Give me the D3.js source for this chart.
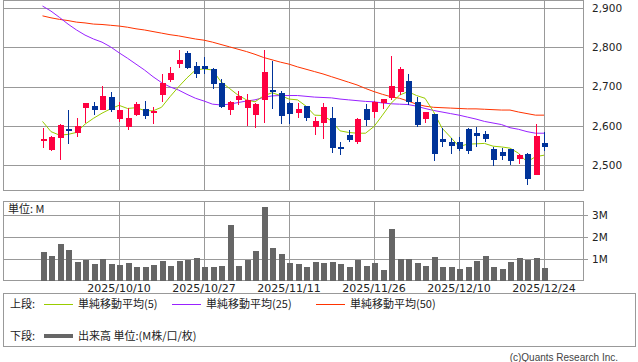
<!DOCTYPE html>
<html lang="ja">
<head>
<meta charset="UTF-8">
<title>株価チャート</title>
<script src="https://d3js.org/d3.v7.min.js"></script>
<style>
  body { margin: 0; background: #fff; }
  svg { display: block; font-family: "DejaVu Sans", sans-serif; }
  .grid line, .frame { stroke: #999; stroke-width: 1; fill: none; shape-rendering: crispEdges; }
  .tick-label { font-size: 10.5px; fill: #222; }
  .date-label { font-size: 11px; fill: #222; }
  .legend text { font-family: "Noto Sans CJK JP", sans-serif; font-size: 11px; fill: #222; }
</style>
</head>
<body>
<svg width="638" height="362"></svg>
<script>
// trading days
const dates = [
  "2025/09/29","2025/09/30","2025/10/01","2025/10/02","2025/10/03","2025/10/06","2025/10/07","2025/10/08","2025/10/09","2025/10/10",
  "2025/10/14","2025/10/15","2025/10/16","2025/10/17","2025/10/20","2025/10/21","2025/10/22","2025/10/23","2025/10/24","2025/10/27",
  "2025/10/28","2025/10/29","2025/10/30","2025/10/31","2025/11/04","2025/11/05","2025/11/06","2025/11/07","2025/11/10","2025/11/11",
  "2025/11/12","2025/11/13","2025/11/14","2025/11/17","2025/11/18","2025/11/19","2025/11/20","2025/11/21","2025/11/25","2025/11/26",
  "2025/11/27","2025/11/28","2025/12/01","2025/12/02","2025/12/03","2025/12/04","2025/12/05","2025/12/08","2025/12/09","2025/12/10",
  "2025/12/11","2025/12/12","2025/12/15","2025/12/16","2025/12/17","2025/12/18","2025/12/19","2025/12/22","2025/12/23","2025/12/24"
];
const openP  = [2562,2538,2570,2592,2582,2645,2650,2641,2673,2618, 2598,2628,2643,2634,2679,2717,2757,2785,2752,2752,
                2744,2708,2640,2666,2646,2628,2666,2691,2683,2658, 2633,2650,2597,2608,2621,2547,2576,2559,2643,2635,
                2658,2670,2686,2714,2660,2616,2629,2567,2559,2559, 2592,2582,2579,2541,2533,2540,2516,2528,2475,2557];
const highP  = [2595,2573,2604,2640,2620,2658,2660,2701,2686,2660, 2646,2661,2663,2649,2731,2750,2792,2790,2763,2775,
                2746,2719,2662,2689,2681,2657,2792,2766,2689,2660, 2658,2651,2623,2659,2648,2558,2589,2619,2655,2662,
                2669,2778,2750,2732,2674,2636,2630,2595,2570,2572, 2593,2596,2587,2545,2544,2542,2527,2530,2604,2583];
const lowP   = [2543,2536,2514,2554,2572,2606,2627,2640,2636,2610, 2589,2626,2618,2605,2660,2711,2748,2745,2722,2733,
                2694,2646,2628,2654,2599,2595,2608,2643,2605,2605, 2620,2613,2577,2567,2531,2526,2559,2554,2599,2620,
                2643,2666,2679,2652,2598,2608,2511,2547,2528,2536, 2528,2547,2558,2498,2514,2501,2503,2448,2475,2536];
const closeP = [2567,2571,2602,2587,2599,2658,2641,2676,2641,2640, 2621,2655,2625,2638,2710,2734,2768,2747,2733,2744,
                2706,2649,2660,2676,2666,2655,2737,2686,2626,2631, 2643,2621,2613,2649,2544,2542,2564,2617,2615,2660,
                2668,2701,2745,2661,2603,2635,2529,2559,2549,2542, 2536,2574,2566,2514,2524,2511,2525,2465,2574,2547];
// 単純移動平均
const ma5  = [2611,2585,2576,2578,2583,2604,2619,2632,2643,2652, 2644,2646,2639,2638,2647,2674,2699,2722,2742,2745,
              2742,2712,2695,2678,2666,2661,2676,2684,2677,2668, 2666,2650,2627,2626,2612,2587,2583,2581,2581,2598,
              2627,2657,2678,2687,2677,2670,2636,2594,2571,2547, 2553,2554,2555,2548,2546,2543,2530,2508,2521,2525];
const ma25 = [2905,2892,2876,2859,2844,2831,2821,2813,2801,2786, 2772,2757,2742,2725,2710,2699,2691,2680,2670,2663,
              2655,2653,2655,2659,2663,2666,2672,2676,2677,2677, 2677,2675,2673,2672,2671,2668,2666,2664,2662,2661,
              2658,2656,2655,2654,2650,2644,2639,2635,2631,2627, 2622,2617,2611,2607,2603,2595,2591,2585,2581,2581];
const ma50 = [2880,2875,2871,2868,2864,2862,2859,2858,2856,2854, 2851,2847,2844,2840,2836,2832,2829,2825,2821,2818,
              2813,2807,2801,2795,2789,2782,2774,2768,2762,2757, 2750,2744,2738,2732,2725,2718,2711,2704,2695,2687,
              2680,2674,2670,2663,2655,2650,2647,2646,2645,2644, 2643,2643,2642,2641,2640,2640,2635,2631,2627,2627];
// 出来高 (M)
const volume = [1.32,1.13,1.68,1.41,0.86,0.95,0.77,1.00,0.77,0.72, 0.81,0.63,0.63,0.72,0.90,0.68,0.90,0.95,1.04,0.63,
                0.63,0.68,2.56,0.68,0.95,1.36,3.38,1.50,1.22,0.81, 0.77,0.63,0.86,0.81,0.86,0.77,0.63,0.95,0.68,0.81,
                0.49,2.37,1.00,1.00,0.81,0.68,1.09,0.63,0.63,0.54, 0.63,0.90,1.13,0.63,0.54,0.86,1.04,0.95,1.04,0.58];

const dateTicks  = ["2025/10/10","2025/10/27","2025/11/11","2025/11/26","2025/12/10","2025/12/24"];
const priceTicks = [2500, 2600, 2700, 2800, 2900];
const volTicks   = [1, 2, 3];

const svg = d3.select("svg");
const L = 3, R = 583;
const top1 = 0.5, bot1 = 190;
const top2 = 201, bot2 = 280.5;

const x = d3.scaleBand().domain(dates).range([38.25, 38.25 + dates.length * 8.5]);
const cx = d => x(d) + x.bandwidth() / 2;
const y = d3.scaleLinear().domain([2500, 2900]).range([165, 8]);
const yv = d3.scaleLinear().domain([0, 3]).range([bot2, 215.3]);

const px = v => Math.round(v) + 0.5;

// price panel grid
const g1 = svg.append("g").attr("class", "grid");
g1.selectAll(".h").data(priceTicks).join("line")
  .attr("x1", L).attr("x2", R).attr("y1", d => px(y(d))).attr("y2", d => px(y(d)));
g1.selectAll(".v").data(dateTicks).join("line")
  .attr("x1", d => px(cx(d))).attr("x2", d => px(cx(d))).attr("y1", top1).attr("y2", bot1);
svg.append("rect").attr("class", "frame")
  .attr("x", L + 0.5).attr("y", top1).attr("width", R - L).attr("height", bot1 - top1);

svg.append("g").selectAll("text").data(priceTicks).join("text")
  .attr("class", "tick-label")
  .attr("x", 592).attr("y", d => y(d)).attr("dy", "0.36em")
  .text(d3.format(","));

// moving averages
const maLine = d3.line().x((d, i) => cx(dates[i])).y(d => y(d));
[[ma50, "#ff3300"], [ma25, "#9922ff"], [ma5, "#99cc00"]].forEach(([s, c]) => {
  svg.append("path").datum(s).attr("d", maLine)
    .attr("fill", "none").attr("stroke", c).attr("stroke-width", 1);
});

// candles
const candles = dates.map((d, i) => ({ d, o: openP[i], h: highP[i], l: lowP[i], c: closeP[i] }));
const col = k => k.c >= k.o ? "#ff0040" : "#003399";
const cg = svg.append("g").attr("shape-rendering", "crispEdges");
cg.selectAll("line").data(candles).join("line")
  .attr("x1", k => px(cx(k.d))).attr("x2", k => px(cx(k.d)))
  .attr("y1", k => y(k.h)).attr("y2", k => y(k.l))
  .attr("stroke", col).attr("stroke-width", 1);
cg.selectAll("rect").data(candles).join("rect")
  .attr("x", k => Math.round(cx(k.d)) - 2.5)
  .attr("width", 6)
  .attr("y", k => y(Math.max(k.o, k.c)))
  .attr("height", k => Math.max(2, Math.abs(y(k.o) - y(k.c))))
  .attr("fill", col);

// volume panel
const g2 = svg.append("g").attr("class", "grid");
g2.selectAll(".h").data(volTicks).join("line")
  .attr("x1", L).attr("x2", R + 5).attr("y1", d => px(yv(d))).attr("y2", d => px(yv(d)));
g2.selectAll(".v").data(dateTicks).join("line")
  .attr("x1", d => px(cx(d))).attr("x2", d => px(cx(d))).attr("y1", top2).attr("y2", bot2);
svg.append("rect").attr("class", "frame")
  .attr("x", L + 0.5).attr("y", top2 + 0.5).attr("width", R - L).attr("height", bot2 - top2 - 0.5);

svg.append("g").attr("shape-rendering", "crispEdges").selectAll("rect").data(volume).join("rect")
  .attr("x", (v, i) => Math.round(cx(dates[i])) - 2.5)
  .attr("width", 6)
  .attr("y", v => yv(v))
  .attr("height", v => bot2 - yv(v))
  .attr("fill", "#666");

svg.append("g").selectAll("text").data(volTicks).join("text")
  .attr("class", "tick-label")
  .attr("x", 592).attr("y", d => yv(d)).attr("dy", "0.36em")
  .text(d => d + "M");

svg.append("text").attr("x", 8).attr("y", 213)
  .style("font-size", "11px").style("fill", "#222")
  .style("font-family", "'Noto Sans CJK JP', sans-serif")
  .text("単位: M");

svg.append("g").selectAll("text").data(dateTicks).join("text")
  .attr("class", "date-label")
  .attr("x", d => cx(d)).attr("y", 292).attr("text-anchor", "middle")
  .text(d => d);

// legend
const lg = svg.append("g").attr("class", "legend");
lg.append("rect").attr("class", "frame").attr("x", 3.5).attr("y", 293.5).attr("width", 632).attr("height", 53);
lg.append("text").attr("x", 10).attr("y", 304).attr("dy", "0.36em").text("上段:");
[["単純移動平均(5)", "#99cc00", 44], ["単純移動平均(25)", "#9922ff", 172], ["単純移動平均(50)", "#ff3300", 316]]
  .forEach(([t, c, x0]) => {
    lg.append("line").attr("x1", x0).attr("x2", x0 + 29).attr("y1", 304.5).attr("y2", 304.5)
      .attr("stroke", c).attr("stroke-width", 1);
    lg.append("text").attr("x", x0 + 34).attr("y", 304).attr("dy", "0.36em").text(t);
  });
lg.append("text").attr("x", 10).attr("y", 336).attr("dy", "0.36em").text("下段:");
lg.append("line").attr("x1", 44).attr("x2", 73).attr("y1", 336).attr("y2", 336)
  .attr("stroke", "#666").attr("stroke-width", 4);
lg.append("text").attr("x", 78).attr("y", 336).attr("dy", "0.36em").text("出来高 単位:(M株/口/枚)");

svg.append("text").attr("x", 618).attr("y", 357).attr("dy", "0.36em").attr("text-anchor", "end")
  .style("font-size", "10px").style("fill", "#444").style("font-family", "'Liberation Sans', sans-serif")
  .text("(c)Quants Research Inc.");
</script>
</body>
</html>
